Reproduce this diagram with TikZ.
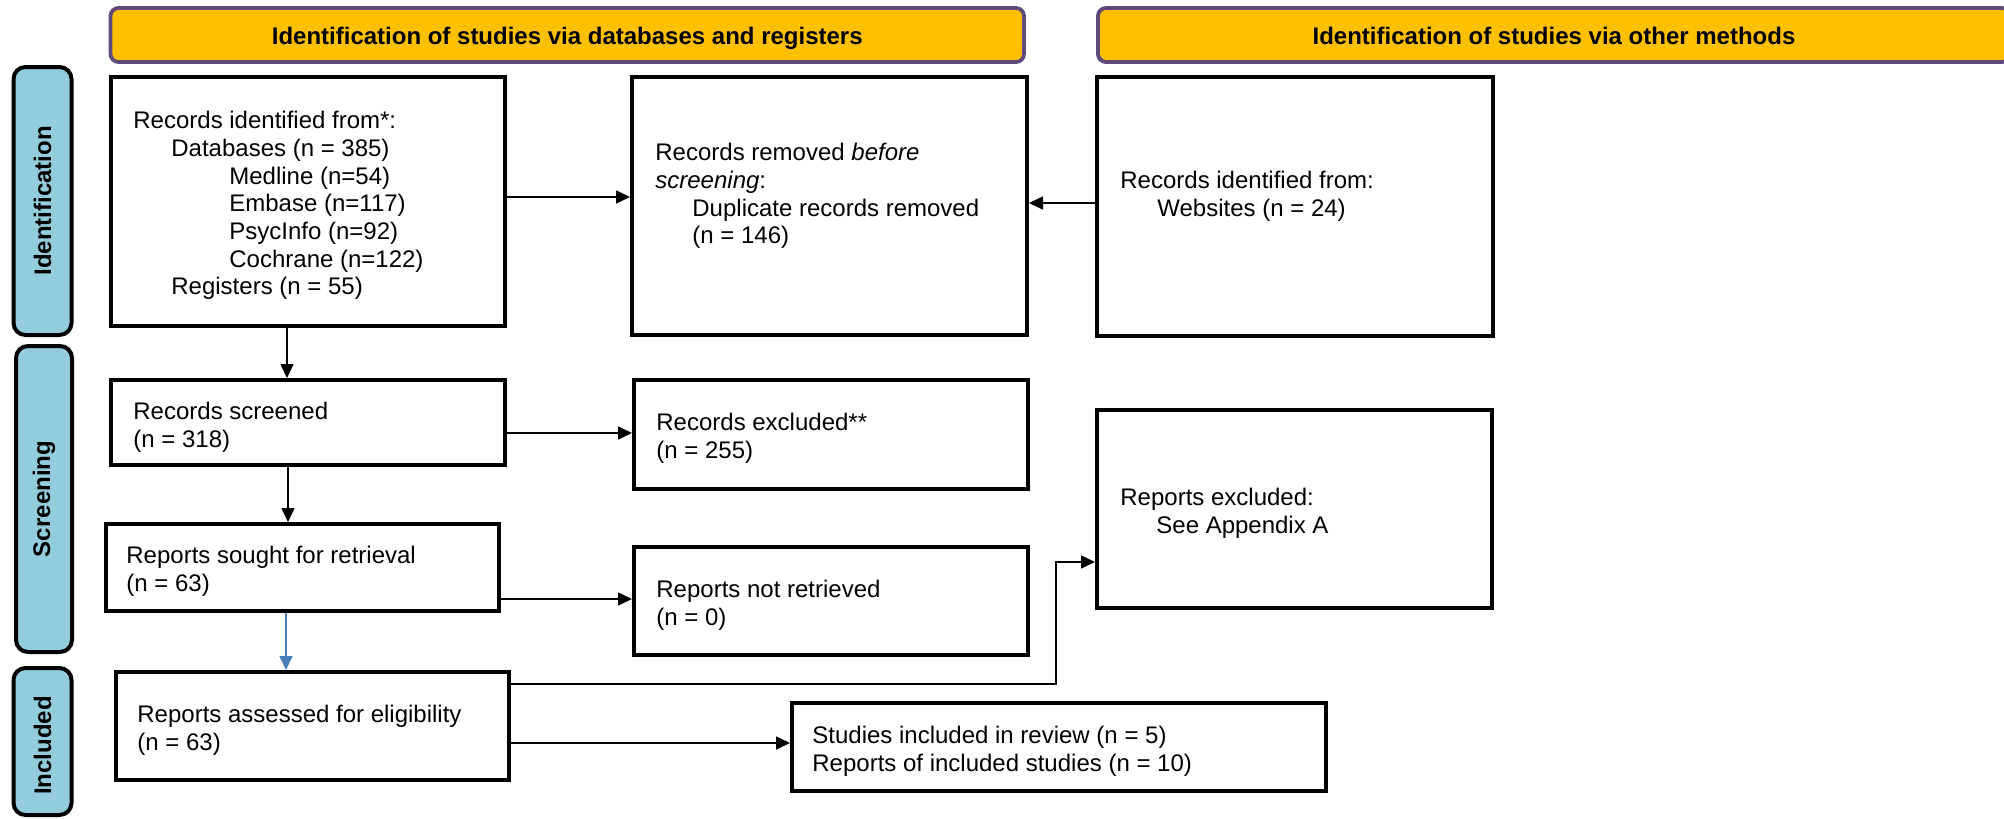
\documentclass[tikz,border=0pt]{standalone}
\usepackage{fontspec}
\setmainfont{Liberation Sans}
\usetikzlibrary{arrows.meta}
\definecolor{hdrfill}{HTML}{FFC000}
\definecolor{hdrline}{HTML}{604A7B}
\definecolor{sidefill}{HTML}{93CDDD}
\definecolor{bluearr}{HTML}{4A7EBB}
\newcommand\bx[5]{\node[box, minimum width={(#4-#2)*0.5pt}, minimum height={(#5-#3)*0.5pt}] (#1) at ({(#2+#4)/2},{(#3+#5)/2}) {};}
\begin{document}
\begin{tikzpicture}[x=0.5pt,y=-0.5pt,
  box/.style={draw=black, line width=2pt, fill=white, inner sep=0pt},
  txt/.style={anchor=north west, inner sep=0pt, align=left, font=\fontsize{12pt}{13.83pt}\selectfont},
  hdr/.style={draw=hdrline, fill=hdrfill, line width=1.9pt, rounded corners=4pt, inner sep=0pt, text height=9.3pt, text depth=0pt, font=\bfseries\fontsize{12pt}{14pt}\selectfont},
  side/.style={draw=black, fill=sidefill, line width=2pt, rounded corners=6pt, inner sep=0pt, rotate=90, font=\bfseries\fontsize{12pt}{14pt}\selectfont},
  arr/.style={line width=0.8pt, -{Triangle[length=7pt,width=6.5pt]}},
]
\useasboundingbox (0,0) rectangle (2004,819);
\clip (0,0) rectangle (2004,819);

% headers
\node[hdr, minimum width=456.75pt, minimum height=27pt] (h1) at (567.25,35) {Identification of studies via databases and registers};
\node[hdr, minimum width=456pt, minimum height=27pt] (h2) at (1554,35) {Identification of studies via other methods};

% side bars
\node[side, minimum width=134pt, minimum height=29pt] (s1) at (42.5,201) {Identification};
\node[side, minimum width=153pt, minimum height=28pt] (s2) at (44,499) {Screening};
\node[side, minimum width=73.5pt, minimum height=29pt] (s3) at (42.5,741.5) {Included\hspace*{4pt}};

% boxes
\bx{b1}{111}{77}{505}{326}
\bx{b2}{632}{77}{1027}{335}
\bx{b3}{1097}{77}{1493}{336}
\bx{b4}{111}{380}{505}{465}
\bx{b5}{634}{380}{1028}{489}
\bx{b6}{106}{524}{499}{611}
\bx{b7}{634}{547}{1028}{655}
\bx{b8}{1097}{410}{1492}{608}
\bx{b9}{116}{672}{509}{780}
\bx{b10}{792}{703}{1326}{791}

% texts
\node[txt] (t1) at (133,111) {Records identified from*:\\
\hspace*{19pt}Databases (n = 385)\\
\hspace*{48pt}Medline (n=54)\\
\hspace*{48pt}Embase (n=117)\\
\hspace*{48pt}PsycInfo (n=92)\\
\hspace*{48pt}Cochrane (n=122)\\
\hspace*{19pt}Registers (n = 55)};
\node[txt] (t2) at (655,143) {Records removed \textit{before}\\
\textit{screening}:\\
\hspace*{18.5pt}Duplicate records removed\\
\hspace*{18.5pt}(n = 146)};
\node[txt] (t3) at (1120,171) {Records identified from:\\
\hspace*{18.5pt}Websites (n = 24)};
\node[txt] (t4) at (133,402) {Records screened\\(n = 318)};
\node[txt] (t5) at (656,413) {Records excluded**\\(n = 255)};
\node[txt] (t6) at (126,546) {Reports sought for retrieval\\(n = 63)};
\node[txt] (t7) at (656,580) {Reports not retrieved\\(n = 0)};
\node[txt] (t8) at (1120,488) {Reports excluded:\\
\hspace*{18pt}See Appendix A};
\node[txt] (t9) at (137,705) {Reports assessed for eligibility\\(n = 63)};
\node[txt] (t10) at (812,726) {Studies included in review (n = 5)\\Reports of included studies (n = 10)};

% connectors
\draw[arr] (b1.east |- 0,197) -- (b2.west |- 0,197);
\draw[arr] (b3.west |- 0,203) -- (b2.east |- 0,203);
\draw[arr] (b1.south -| 287,0) -- (b4.north -| 287,0);
\draw[arr] (b4.east |- 0,433) -- (b5.west |- 0,433);
\draw[arr] (b4.south -| 288,0) -- (b6.north -| 288,0);
\draw[arr] (b6.east |- 0,599) -- (b7.west |- 0,599);
\draw[arr, draw=bluearr] (b6.south -| 286,0) -- (b9.north -| 286,0);
\coordinate (elb) at (1056,562);
\draw[arr] (b9.east |- 0,684) -| (elb) -- (b8.west |- elb);
\draw[arr] (b9.east |- 0,743) -- (b10.west |- 0,743);
\end{tikzpicture}
\end{document}
